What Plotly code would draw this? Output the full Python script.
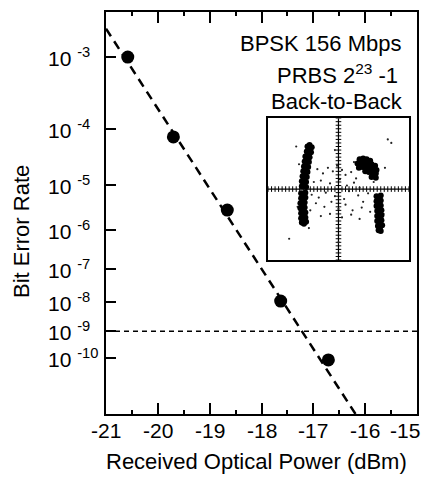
import numpy as np
import plotly.graph_objects as go

# ---------------- data ----------------
power_dbm = [-20.58, -19.70, -18.66, -17.63, -16.71]
ber = [1.0e-3, 7.4e-5, 2.9e-6, 1.07e-8, 8.1e-11]

fit_power = [-21.0, -16.0]
fit_ber = [2.1e-3, 5.0e-14]

threshold_power = [-21.0, -15.0]
threshold_ber = [1e-9, 1e-9]

x_tick_vals = [-21, -20, -19, -18, -17, -16, -15]
x_tick_text = ["-21", "-20", "-19", "-18", "-17", "-16", "-15"]
y_tick_exps = [3, 4, 5, 6, 7, 8, 9, 10]

# constellation inset (normalised I/Q)
lu_i = [-0.44, -0.41, -0.38, -0.45, -0.42, -0.39, -0.47, -0.44, -0.41, -0.48, -0.45, -0.42,
        -0.49, -0.46, -0.43, -0.50, -0.47, -0.44, -0.51, -0.48, -0.45, -0.52, -0.49, -0.46,
        -0.52, -0.49, -0.46]
lu_q = [0.60, 0.62, 0.59, 0.53, 0.55, 0.52, 0.46, 0.48, 0.45, 0.39, 0.41, 0.38,
        0.32, 0.34, 0.31, 0.25, 0.27, 0.24, 0.18, 0.20, 0.17, 0.11, 0.13, 0.10,
        0.04, 0.06, 0.03]
ll_i = [-0.53, -0.50, -0.47, -0.53, -0.50, -0.47, -0.54, -0.51, -0.48, -0.54, -0.51, -0.48,
        -0.53, -0.50, -0.47, -0.53, -0.50, -0.47, -0.52, -0.49, -0.46]
ll_q = [-0.06, -0.08, -0.05, -0.13, -0.15, -0.12, -0.20, -0.22, -0.19, -0.27, -0.29, -0.26,
        -0.34, -0.36, -0.33, -0.41, -0.43, -0.40, -0.47, -0.49, -0.46]
ru_i = [0.30, 0.35, 0.40, 0.45, 0.27, 0.32, 0.37, 0.42, 0.47, 0.52, 0.29, 0.34, 0.39, 0.44,
        0.49, 0.54, 0.38, 0.43, 0.48, 0.53, 0.47, 0.53]
ru_q = [0.42, 0.43, 0.42, 0.40, 0.36, 0.37, 0.37, 0.36, 0.35, 0.33, 0.30, 0.31, 0.31, 0.30,
        0.29, 0.27, 0.25, 0.24, 0.23, 0.22, 0.17, 0.16]
rl_i = [0.54, 0.57, 0.60, 0.54, 0.57, 0.60, 0.54, 0.57, 0.60, 0.55, 0.58, 0.61,
        0.55, 0.58, 0.61, 0.55, 0.58, 0.61, 0.56, 0.59, 0.62, 0.57, 0.60]
rl_q = [-0.10, -0.12, -0.09, -0.17, -0.19, -0.16, -0.24, -0.26, -0.23, -0.31, -0.33, -0.30,
        -0.38, -0.40, -0.37, -0.45, -0.47, -0.44, -0.52, -0.54, -0.51, -0.58, -0.59]
sp_i = [-0.30, -0.22, -0.15, -0.08, -0.02, 0.05, 0.10, 0.18, 0.25, -0.35, -0.25, -0.12, 0.02,
        0.12, 0.22, 0.30, -0.38, -0.28, -0.18, -0.05, 0.08, 0.15, 0.28, 0.35, 0.42, -0.32,
        -0.20, -0.10, 0.00, 0.10, 0.20, 0.33, -0.40, -0.25, -0.12, 0.05, 0.18, 0.30, 0.45,
        -0.60, 0.70, -0.70, 0.75, 0.0, -0.05, -0.56, -0.58, -0.42, 0.50, 0.64, 0.66, 0.22]
sp_q = [0.28, 0.22, 0.30, 0.25, 0.33, 0.27, 0.20, 0.24, 0.15, 0.10, 0.12, 0.08, 0.14, 0.05,
        0.09, 0.02, -0.08, -0.12, -0.05, -0.10, -0.14, -0.03, -0.09, -0.18, -0.06, -0.20,
        -0.25, -0.18, -0.28, -0.22, -0.30, -0.26, -0.30, -0.38, -0.35, -0.40, -0.36, -0.42,
        -0.32, 0.60, 0.70, -0.70, 0.65, -0.75, 0.55, 0.35, -0.25, -0.55, 0.10, -0.35, 0.30, 0.38]


def ber_scale(b):
    """BER axis: -log10(-log10(BER))"""
    b = np.asarray(b, dtype=float)
    return -np.log10(-np.log10(b))


FONT = "Liberation Sans, Arial, sans-serif"
W, H = 423, 477
ML, MR, MT, MB = 106, 6, 12, 63
fig = go.Figure()

# threshold line at 1e-9
fig.add_trace(go.Scatter(x=threshold_power, y=ber_scale(threshold_ber), mode="lines",
                         line=dict(color="black", width=1.5, dash="5px,4px"),
                         showlegend=False, hoverinfo="skip"))
# fit line
fig.add_trace(go.Scatter(x=fit_power, y=ber_scale(fit_ber), mode="lines",
                         line=dict(color="black", width=2.5, dash="9px,6px"),
                         showlegend=False, hoverinfo="skip"))
# measured points
fig.add_trace(go.Scatter(x=power_dbm, y=ber_scale(ber), mode="markers",
                         marker=dict(color="black", size=13),
                         showlegend=False))

# inset crosshair graticule
grat = np.linspace(-1, 1, 41)
fig.add_trace(go.Scatter(x=grat, y=np.zeros_like(grat), mode="lines+markers",
                         line=dict(color="black", width=1.2),
                         marker=dict(symbol="line-ns", size=4, line=dict(color="black", width=1)),
                         xaxis="x2", yaxis="y2", showlegend=False, hoverinfo="skip"))
fig.add_trace(go.Scatter(x=np.zeros_like(grat), y=grat, mode="lines+markers",
                         line=dict(color="black", width=1.2),
                         marker=dict(symbol="line-ew", size=4, line=dict(color="black", width=1)),
                         xaxis="x2", yaxis="y2", showlegend=False, hoverinfo="skip"))
# constellation
fig.add_trace(go.Scatter(x=sp_i, y=sp_q, mode="markers", marker=dict(color="#222", size=2.2),
                         xaxis="x2", yaxis="y2", showlegend=False, hoverinfo="skip"))
for ci, cq in [(lu_i, lu_q), (ll_i, ll_q), (ru_i, ru_q), (rl_i, rl_q)]:
    fig.add_trace(go.Scatter(x=ci, y=cq, mode="markers", marker=dict(color="black", size=6),
                             xaxis="x2", yaxis="y2", showlegend=False, hoverinfo="skip"))

y_top = ber_scale(10 ** -2.505)
y_bot = ber_scale(10 ** -12.53)

pw = W - ML - MR
ph = H - MT - MB


def px_x(px):
    return (px - ML) / pw


def px_y(py):
    return (H - MB - py) / ph


annotations = [
    dict(text="BPSK 156 Mbps", x=px_x(320), y=px_y(44), xref="paper", yref="paper",
         xanchor="center", yanchor="middle", showarrow=False, font=dict(size=22)),
    dict(text="PRBS 2<sup>23</sup> -1", x=px_x(337), y=px_y(74), xref="paper", yref="paper",
         xanchor="center", yanchor="middle", showarrow=False, font=dict(size=22)),
    dict(text="Back-to-Back", x=px_x(337), y=px_y(101), xref="paper", yref="paper",
         xanchor="center", yanchor="middle", showarrow=False, font=dict(size=22)),
    dict(text="Bit Error Rate", x=px_x(22), y=px_y(232), xref="paper", yref="paper",
         textangle=-90, xanchor="center", yanchor="middle", showarrow=False,
         font=dict(size=22)),
    dict(text="Received Optical Power (dBm)", x=px_x(256), y=px_y(462), xref="paper",
         yref="paper", xanchor="center", yanchor="middle", showarrow=False,
         font=dict(size=22)),
]
# y tick labels, left aligned as in the original
for e in y_tick_exps:
    annotations.append(dict(text="10 <sup>-%d</sup>" % e, x=px_x(46), y=float(ber_scale(10.0 ** -e)),
                            xref="paper", yref="y", xanchor="left", yanchor="middle",
                            showarrow=False, font=dict(size=21)))
# x tick labels (hyphen minus as in the original); last one kept inside the page
for v, t in zip(x_tick_vals, x_tick_text):
    last = v == x_tick_vals[-1]
    annotations.append(dict(text=t, x=px_x(422) if last else v, y=px_y(430),
                            xref="paper" if last else "x", yref="paper",
                            xanchor="right" if last else "center", yanchor="middle",
                            showarrow=False, font=dict(size=21)))

fig.update_layout(
    width=W, height=H,
    margin=dict(l=ML, r=MR, t=MT, b=MB, autoexpand=False),
    paper_bgcolor="white", plot_bgcolor="white",
    font=dict(family=FONT, color="black", size=20),
    xaxis=dict(range=[-21, -15], tickvals=x_tick_vals, showticklabels=False,
               ticks="inside", ticklen=11, tickwidth=1.5, tickcolor="black",
               showline=True, linewidth=1.8, linecolor="black", mirror="ticks",
               showgrid=False, zeroline=False, automargin=False,
               minor=dict(dtick=0.5, tick0=-21, ticks="inside", ticklen=4, tickwidth=1.5,
                          tickcolor="black", showgrid=False)),
    yaxis=dict(range=[y_bot, y_top],
               tickvals=list(ber_scale([10.0 ** -e for e in y_tick_exps])),
               showticklabels=False,
               ticks="inside", ticklen=10, tickwidth=1.5, tickcolor="black",
               showline=True, linewidth=1.8, linecolor="black", mirror=True,
               showgrid=False, zeroline=False, automargin=False),
    xaxis2=dict(domain=[0.521, 0.974], anchor="y2", range=[-1, 1], showticklabels=False,
                ticks="", showline=True, linewidth=1.5, linecolor="black", mirror=True,
                showgrid=False, zeroline=False, automargin=False),
    yaxis2=dict(domain=[0.383, 0.736], anchor="x2", range=[-1, 1], showticklabels=False,
                ticks="", showline=True, linewidth=1.5, linecolor="black", mirror=True,
                showgrid=False, zeroline=False, automargin=False),
    annotations=annotations,
)

fig.write_html("out.html", config={"displayModeBar": False},
               post_script="document.body.style.margin='0';document.body.style.overflow='hidden';")
